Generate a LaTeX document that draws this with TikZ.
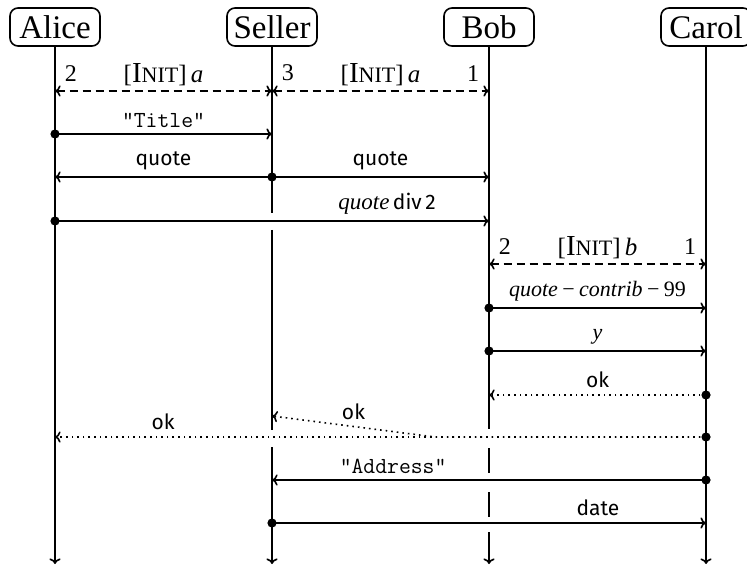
\documentclass[tikz,border=0pt]{standalone}
\usepackage{fontspec}
\setmainfont{Liberation Serif}
\setsansfont{Fira Sans}
\usetikzlibrary{arrows.meta}
\newcommand\initsc{{\fontsize{14.5}{16}\selectfont I}{\fontsize{11}{12}\selectfont NIT}}
\tikzset{
  >={To[length=2.8pt,width=5.6pt]},
  actor/.style={draw,rounded corners=4pt,minimum width=45pt,minimum height=19pt,inner sep=2pt,font=\fontsize{16.5}{20}\selectfont},
  lbl/.style={above,inner sep=3pt,font=\fontsize{10.5}{12}\sffamily},
  expr/.style={above,inner sep=3pt,font=\fontsize{11}{13}\rmfamily},
  tag/.style={above,inner sep=2pt,font=\fontsize{12.5}{16}\selectfont},
  num/.style={inner sep=2pt,font=\fontsize{12}{14}\selectfont},
  msg/.style={->},
  init/.style={<->,dash pattern=on 4pt off 2.5pt},
  reply/.style={->,dotted},
  every picture/.style={line width=0.8pt},
}

\begin{document}
\begin{tikzpicture}[x=0.5pt,y=-0.5pt]
\useasboundingbox (0,0) rectangle (747,566);
\node[actor] (Alice) at (55,27){Alice}; \node[actor] (Seller) at (272,27){Seller};
\node[actor] (Bob) at (489,27){Bob}; \node[actor] (Carol) at (706,27){Carol};
\foreach \n/\x in {Alice/55,Seller/272,Bob/489,Carol/706} \coordinate (\n-end) at (\x,564);
% lifelines, broken where a message passes over them
\draw[->] (Alice)--(Alice-end); \draw[->] (Carol)--(Carol-end);
\draw (Seller)--(Seller |- 0,213) (Seller |- 0,230)--(Seller |- 0,430);
\draw[->] (Seller |- 0,447)--(Seller-end);
\draw (Bob)--(Bob |- 0,429) (Bob |- 0,448)--(Bob |- 0,473) (Bob |- 0,492)--(Bob |- 0,517);
\draw[->] (Bob |- 0,532)--(Bob-end);
% messages
\draw[init] (Alice |- 0,91) node[num,above right=2.5pt]{2} --node[tag]{[\initsc]\,\textit{a}} (Seller |- 0,91);
\draw[init] (Seller |- 0,91) node[num,above right=2.5pt]{3} --node[tag]{[\initsc]\,\textit{a}} (Bob |- 0,91) node[num,above left=2.5pt]{1};
\draw[msg] (Alice |- 0,134)--node[lbl]{\fontsize{11.5}{13}\ttfamily"Title"}(Seller |- 0,134);
\draw[msg] (Seller |- 0,177)--node[lbl]{quote}(Alice |- 0,177);
\draw[msg] (Seller |- 0,177)--node[lbl]{quote}(Bob |- 0,177);
\draw[msg] (Alice |- 0,221)--node[lbl,pos=0.765]{{\fontsize{11.5}{13}\rmfamily\itshape quote}\,div\,2}(Bob |- 0,221);
\draw[init] (Bob |- 0,264) node[num,above right=2.5pt]{2} --node[tag]{[\initsc]\,\textit{b}} (Carol |- 0,264) node[num,above left=2.5pt]{1};
\draw[msg] (Bob |- 0,308)--node[expr]{\textit{quote}\hspace{2.2pt}−\hspace{2.2pt}\textit{contrib}\hspace{2.2pt}−\hspace{2.2pt}99}(Carol |- 0,308);
\draw[msg] (Bob |- 0,351)--node[expr]{\textit{y}}(Carol |- 0,351);
\draw[reply] (Carol |- 0,395)--node[lbl]{ok}(Bob |- 0,395);
\coordinate (kink) at (435,437);
\draw[reply] (Carol |- 0,437)--(kink)--node[lbl]{ok}(Seller |- 0,416);
\draw[reply] (Carol |- 0,437)--node[lbl,pos=0.834]{ok}(Alice |- 0,437);
\draw[msg] (Carol |- 0,480)--node[lbl,pos=0.721]{\fontsize{11.5}{13}\ttfamily"Address"}(Seller |- 0,480);
\draw[msg] (Seller |- 0,523)--node[lbl,pos=0.751]{date}(Carol |- 0,523);
\foreach \n/\y in {Alice/134,Seller/177,Alice/221,Bob/308,Bob/351,Carol/395,Carol/437,Carol/480,Seller/523}
  \fill (\n |- 0,\y) circle (2.3pt);
\end{tikzpicture}
\end{document}
